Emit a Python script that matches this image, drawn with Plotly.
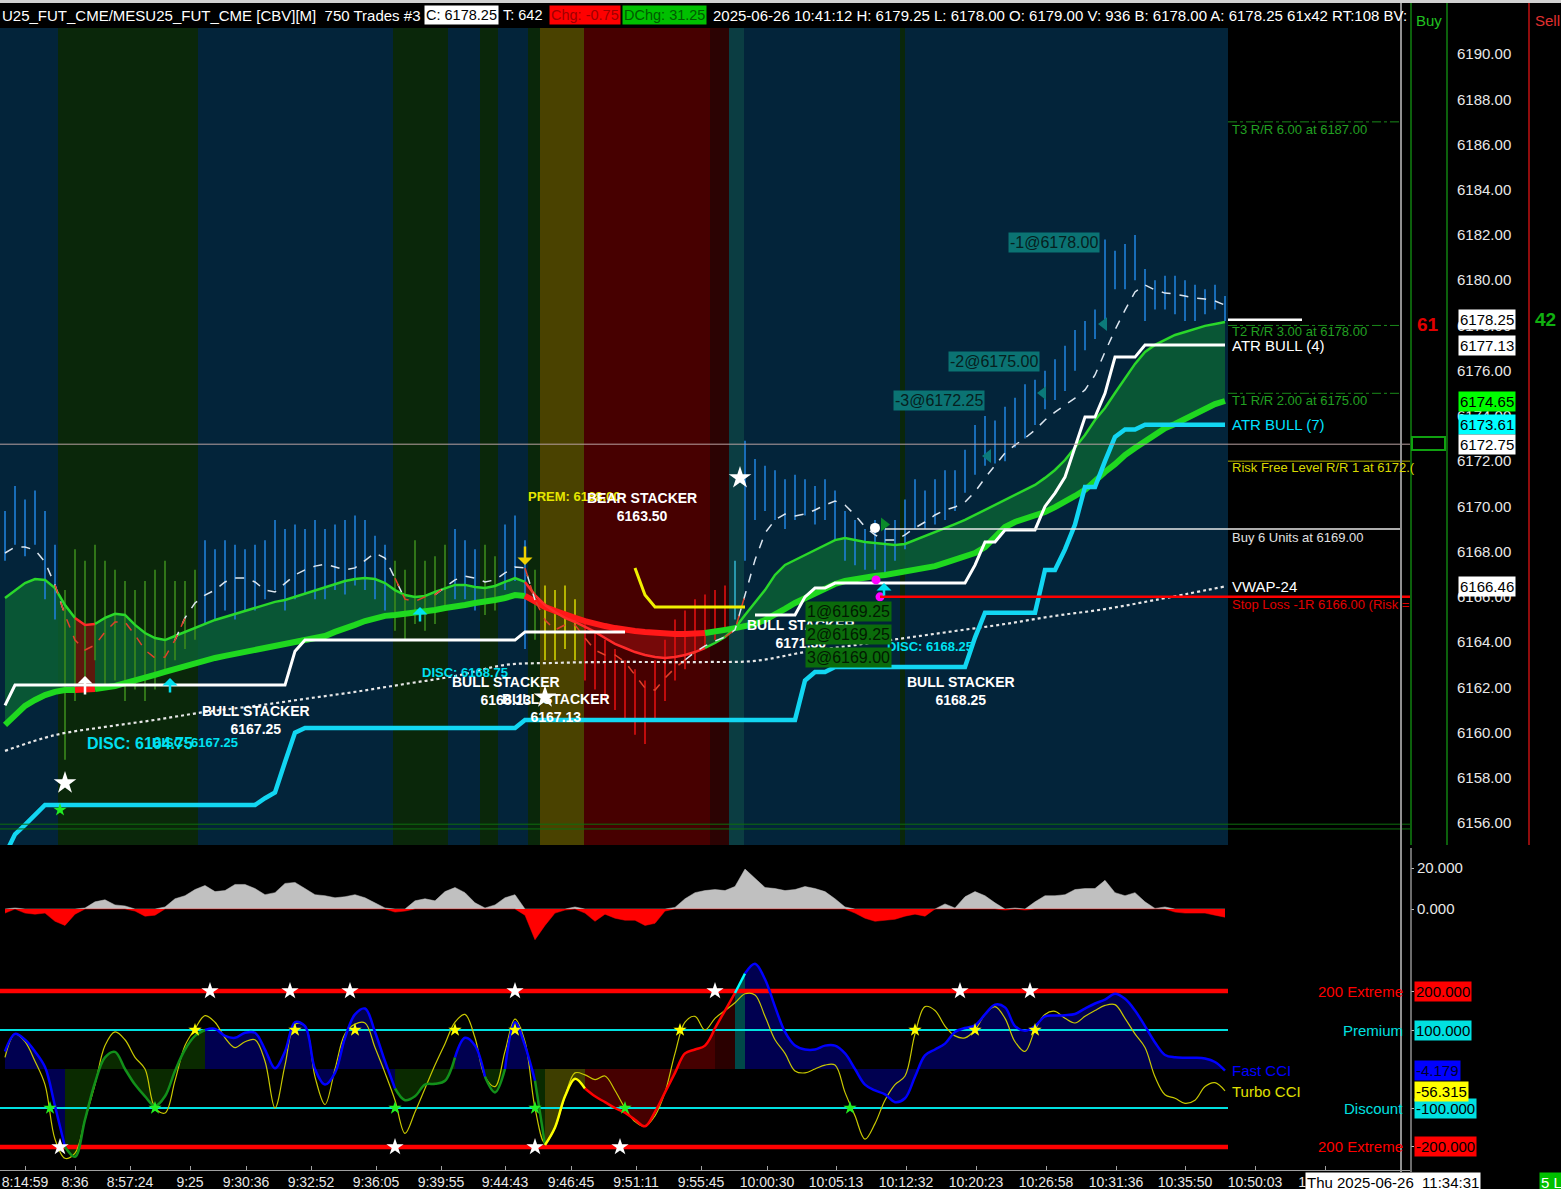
import plotly.graph_objects as go

# ---------------- DATA ----------------
bar_high = [6169.8, 6170.9, 6170.3, 6170.7, 6169.8, 6168.3, 6166.3, 6168.1, 6167.6, 6168.3,
            6167.6, 6167.2, 6166.7, 6166.3, 6166.7, 6167.2, 6167.6, 6166.7, 6166.7, 6167.2,
            6168.5, 6168.1, 6168.5, 6168.3, 6168.1, 6168.3, 6168.5, 6169.4, 6169.0, 6169.2,
            6169.0, 6169.4, 6169.0, 6169.2, 6169.4, 6169.6, 6169.4, 6168.7, 6168.3, 6167.6,
            6167.2, 6168.5, 6167.6, 6167.8, 6168.3, 6169.0, 6168.5, 6168.1, 6168.3, 6167.8,
            6169.2, 6169.6, 6168.5, 6167.2, 6166.5, 6166.3, 6166.5, 6165.9, 6165.0, 6164.5,
            6164.1, 6163.7, 6163.2, 6162.8, 6162.3, 6163.2, 6164.1, 6165.0, 6165.4, 6165.9,
            6166.1, 6166.3, 6166.5, 6167.6, 6172.9, 6172.1, 6171.8, 6171.6, 6171.2, 6171.4,
            6171.2, 6170.9, 6171.2, 6170.7, 6169.8, 6169.4, 6169.0, 6169.4, 6169.0, 6169.4,
            6170.3, 6171.2, 6170.7, 6171.2, 6171.6, 6171.6, 6172.5, 6173.6, 6174.0, 6173.8,
            6174.4, 6174.8, 6175.4, 6175.6, 6176.0, 6176.5, 6177.1, 6177.8, 6178.2, 6178.7,
            6181.8, 6181.3, 6181.6, 6182.0, 6180.5, 6180.0, 6180.2, 6180.2, 6180.0, 6179.8,
            6179.6, 6179.8, 6179.3]
bar_low = [6167.6, 6168.3, 6167.8, 6168.3, 6165.9, 6165.0, 6158.8, 6161.4, 6162.3, 6163.2,
           6161.9, 6162.3, 6161.4, 6161.9, 6161.4, 6161.9, 6162.8, 6163.2, 6163.7, 6164.1,
           6164.8, 6165.0, 6165.4, 6165.0, 6165.4, 6165.4, 6165.9, 6166.3, 6165.4, 6165.9,
           6166.1, 6165.9, 6165.9, 6166.3, 6166.1, 6166.5, 6166.3, 6165.9, 6165.4, 6164.5,
           6164.1, 6164.8, 6164.5, 6164.8, 6165.4, 6165.9, 6165.9, 6165.4, 6165.2, 6165.4,
           6166.3, 6166.7, 6163.7, 6164.1, 6163.2, 6163.2, 6163.7, 6163.2, 6162.3, 6161.9,
           6161.4, 6161.0, 6160.6, 6159.9, 6159.5, 6160.6, 6161.4, 6162.3, 6162.8, 6163.2,
           6163.7, 6164.1, 6164.5, 6165.0, 6167.6, 6169.4, 6169.8, 6169.4, 6169.0, 6169.4,
           6169.6, 6169.2, 6169.4, 6168.5, 6167.6, 6167.4, 6167.2, 6167.2, 6166.9, 6167.6,
           6168.1, 6169.0, 6169.0, 6169.2, 6169.4, 6169.8, 6170.6, 6171.4, 6171.8, 6171.9,
           6172.0, 6172.6, 6173.0, 6173.6, 6174.3, 6174.7, 6175.1, 6176.0, 6176.9, 6177.4,
           6178.2, 6179.6, 6179.6, 6180.0, 6178.2, 6178.7, 6178.7, 6178.5, 6178.2, 6178.2,
           6178.5, 6178.7, 6178.2]
band_fast = [6165.95, 6166.30, 6166.61, 6166.79, 6166.75, 6166.39, 6165.64, 6165.07, 6164.76, 6164.80,
             6165.07, 6165.25, 6165.20, 6164.76, 6164.40, 6164.18, 6164.09, 6164.27, 6164.45, 6164.62,
             6164.80, 6164.98, 6165.11, 6165.25, 6165.38, 6165.51, 6165.64, 6165.78, 6165.86, 6166.00,
             6166.13, 6166.30, 6166.44, 6166.57, 6166.70, 6166.79, 6166.83, 6166.79, 6166.61, 6166.30,
             6166.08, 6166.00, 6166.04, 6166.22, 6166.39, 6166.53, 6166.53, 6166.44, 6166.39, 6166.48,
             6166.66, 6166.83, 6166.66, 6166.08, 6165.64, 6165.33, 6165.07, 6164.89, 6164.67, 6164.45,
             6164.18, 6163.92, 6163.74, 6163.56, 6163.43, 6163.34, 6163.30, 6163.34, 6163.43, 6163.56,
             6163.74, 6163.96, 6164.23, 6164.62, 6165.20, 6165.73, 6166.30, 6166.97, 6167.41, 6167.63,
             6167.85, 6168.07, 6168.29, 6168.51, 6168.60, 6168.51, 6168.43, 6168.38, 6168.34, 6168.29,
             6168.34, 6168.51, 6168.69, 6168.87, 6169.05, 6169.22, 6169.40, 6169.62, 6169.84, 6170.06,
             6170.28, 6170.50, 6170.73, 6170.95, 6171.26, 6171.61, 6172.05, 6172.58, 6173.16, 6173.82,
             6174.35, 6175.01, 6175.68, 6176.30, 6176.83, 6177.14, 6177.36, 6177.58, 6177.71, 6177.84,
             6177.98, 6178.06, 6178.15]
band_slow = [6160.34, 6160.78, 6161.18, 6161.44, 6161.66, 6161.80, 6161.88, 6161.88, 6161.88, 6161.93,
             6161.97, 6162.06, 6162.19, 6162.33, 6162.46, 6162.55, 6162.68, 6162.81, 6162.95, 6163.08,
             6163.21, 6163.30, 6163.39, 6163.48, 6163.56, 6163.65, 6163.74, 6163.83, 6163.92, 6164.00,
             6164.05, 6164.14, 6164.27, 6164.45, 6164.58, 6164.76, 6164.93, 6165.07, 6165.16, 6165.20,
             6165.25, 6165.29, 6165.33, 6165.42, 6165.51, 6165.55, 6165.64, 6165.73, 6165.78, 6165.86,
             6165.95, 6166.08, 6166.04, 6165.78, 6165.55, 6165.38, 6165.20, 6165.07, 6164.93, 6164.80,
             6164.71, 6164.62, 6164.54, 6164.49, 6164.45, 6164.40, 6164.38, 6164.36, 6164.36, 6164.36,
             6164.40, 6164.45, 6164.54, 6164.62, 6164.71, 6164.80, 6164.98, 6165.20, 6165.47, 6165.73,
             6165.95, 6166.13, 6166.35, 6166.57, 6166.70, 6166.79, 6166.88, 6166.92, 6166.97, 6167.05,
             6167.10, 6167.19, 6167.28, 6167.36, 6167.50, 6167.63, 6167.76, 6167.94, 6168.20, 6168.65,
             6169.09, 6169.31, 6169.44, 6169.58, 6169.75, 6169.97, 6170.19, 6170.46, 6170.73, 6171.17,
             6171.52, 6171.87, 6172.27, 6172.58, 6172.89, 6173.20, 6173.46, 6173.64, 6173.86, 6174.08,
             6174.31, 6174.52, 6174.66]
ma_fast = [6167.94, 6168.20, 6168.20, 6168.07, 6167.54, 6166.52, 6165.20, 6164.09, 6163.65, 6163.87,
           6164.45, 6164.89, 6164.89, 6164.31, 6163.65, 6163.30, 6163.34, 6164.09, 6165.07, 6165.73,
           6166.08, 6166.30, 6166.66, 6166.83, 6166.83, 6166.66, 6166.30, 6166.22, 6166.61, 6166.97,
           6167.19, 6167.36, 6167.45, 6167.32, 6167.19, 6167.28, 6167.63, 6167.94, 6167.72, 6166.83,
           6165.90, 6165.80, 6166.00, 6166.10, 6166.44, 6166.75, 6166.92, 6166.83, 6166.66, 6166.75,
           6167.06, 6167.32, 6167.28, 6165.86, 6164.98, 6164.54, 6164.76, 6164.76, 6164.18, 6163.65,
           6163.43, 6163.43, 6163.12, 6162.55, 6161.97, 6161.88, 6162.41, 6162.86, 6163.21, 6163.56,
           6163.83, 6164.05, 6164.23, 6164.54, 6166.08, 6167.63, 6168.82, 6169.40, 6169.66, 6169.58,
           6169.66, 6169.84, 6170.06, 6170.24, 6170.06, 6169.62, 6169.09, 6168.74, 6168.51, 6168.51,
           6168.74, 6169.05, 6169.31, 6169.62, 6169.84, 6169.97, 6170.19, 6170.64, 6171.26, 6171.83,
           6172.36, 6172.71, 6173.02, 6173.38, 6173.82, 6174.17, 6174.48, 6174.79, 6175.15, 6175.81,
           6176.83, 6177.80, 6178.68, 6179.48, 6179.79, 6179.57, 6179.43, 6179.39, 6179.30, 6179.21,
           6179.17, 6179.08, 6178.90]
atr_bull4 = [6161.2, 6162.10, 6162.10, 6162.10, 6162.10, 6162.10, 6162.10, 6162.10, 6162.10, 6162.10,
             6162.10, 6162.10, 6162.10, 6162.10, 6162.10, 6162.10, 6162.10, 6162.10, 6162.10, 6162.10,
             6162.10, 6162.10, 6162.10, 6162.10, 6162.10, 6162.10, 6162.10, 6162.10, 6162.10, 6163.6,
             6164.09, 6164.09, 6164.09, 6164.09, 6164.09, 6164.09, 6164.09, 6164.09, 6164.09, 6164.09,
             6164.09, 6164.09, 6164.09, 6164.09, 6164.09, 6164.09, 6164.09, 6164.09, 6164.09, 6164.09,
             6164.09, 6164.09, 6164.45, 6164.45, 6164.45, 6164.45, 6164.45, 6164.45, 6164.45, 6164.45,
             6164.45, 6164.45, 6164.45, None, None, None, None, None, None, None,
             None, None, None, None, None, 6165.20, 6165.20, 6165.20, 6165.20, 6165.20,
             6166.0, 6166.39, 6166.39, 6166.61, 6166.61, 6166.61, 6166.61, 6166.61, 6166.61, 6166.61,
             6166.61, 6166.61, 6166.61, 6166.61, 6166.61, 6166.61, 6166.61, 6167.4, 6168.43, 6168.43,
             6168.96, 6168.96, 6168.96, 6168.96, 6170.0, 6170.59, 6171.3, 6172.6, 6173.95, 6173.95,
             6175.0, 6176.60, 6176.60, 6176.60, 6177.13, 6177.13, 6177.13, 6177.13, 6177.13, 6177.13,
             6177.13, 6177.13, 6177.13]
atr_bull7 = [6154.6, 6155.5, 6155.92, 6156.36, 6156.80, 6156.80, 6156.80, 6156.80, 6156.80, 6156.80,
             6156.80, 6156.80, 6156.80, 6156.80, 6156.80, 6156.80, 6156.80, 6156.80, 6156.80, 6156.80,
             6156.80, 6156.80, 6156.80, 6156.80, 6156.80, 6156.80, 6157.1, 6157.35, 6158.7, 6160.0,
             6160.20, 6160.20, 6160.20, 6160.20, 6160.20, 6160.20, 6160.20, 6160.20, 6160.20, 6160.20,
             6160.20, 6160.20, 6160.20, 6160.20, 6160.20, 6160.20, 6160.20, 6160.20, 6160.20, 6160.20,
             6160.20, 6160.20, 6160.56, 6160.56, 6160.56, 6160.56, 6160.56, 6160.56, 6160.56, 6160.56,
             6160.56, 6160.56, 6160.56, 6160.56, 6160.56, 6160.56, 6160.56, 6160.56, 6160.56, 6160.56,
             6160.56, 6160.56, 6160.56, 6160.56, 6160.56, 6160.56, 6160.56, 6160.56, 6160.56, 6160.56,
             6162.3, 6162.68, 6162.68, 6162.90, 6162.90, 6162.90, 6162.90, 6162.90, 6162.90, 6162.90,
             6162.90, 6162.90, 6162.90, 6162.90, 6162.90, 6162.90, 6162.90, 6164.2, 6165.3, 6165.3,
             6165.3, 6165.3, 6165.3, 6165.3, 6167.19, 6167.19, 6168.1, 6169.2, 6170.86, 6170.86,
             6172.0, 6173.07, 6173.4, 6173.4, 6173.61, 6173.61, 6173.61, 6173.61, 6173.61, 6173.61,
             6173.61, 6173.61, 6173.61]
atr_bear_bars = [63, 64, 65, 74]
atr_bear_vals = [6167.28, 6166.08, 6165.55, 6165.55]
vwap_bars = [0, 5, 10, 15, 20, 25, 30, 35, 40, 45, 50, 55, 60, 65, 70, 75, 80, 85, 90, 95, 100, 105, 110, 115, 122]
vwap_vals = [6159.19, 6159.89, 6160.25, 6160.56, 6160.91, 6161.18, 6161.49, 6161.80, 6162.15, 6162.50,
             6162.99, 6163.08, 6163.12, 6163.12, 6163.12, 6163.17, 6163.56, 6163.87, 6164.18, 6164.49,
             6164.80, 6165.16, 6165.46, 6165.86, 6166.46]
hist_vals = [-2.0, 0.5, -2.0, -2.5, -2.0, -6.0, -8.0, -2.5, 0.5, 3.5,
             4.5, 2.0, 1.5, -1.0, -3.5, -3.0, 1.0, 5.0, 6.5, 9.5,
             11.5, 8.5, 9.0, 12.0, 12.0, 10.0, 7.0, 8.0, 12.5, 13.0,
             10.0, 7.0, 6.5, 5.5, 6.0, 7.0, 5.5, 3.0, 0.5, -1.5,
             -1.0, 4.0, 5.0, 4.0, 8.5, 10.5, 8.0, 3.0, 0.5, 2.0,
             5.5, 7.0, -3.0, -15.0, -8.0, -2.0, -0.5, 1.0, -2.0, -6.0,
             -2.5, -4.5, -5.5, -5.5, -8.0, -7.0, -1.0, 0.8, 5.0, 8.0,
             9.0, 9.5, 9.0, 11.0, 19.5, 15.0, 10.5, 10.0, 9.0, 9.5,
             11.0, 10.0, 8.5, 5.0, 1.0, -2.0, -4.5, -6.0, -5.5, -5.0,
             -3.5, -2.5, -3.5, 0.0, 2.5, 0.5, 6.0, 8.5, 6.5, 3.0,
             -0.5, 0.5, -0.5, 3.5, 6.5, 6.5, 7.0, 9.5, 10.0, 10.0,
             14.0, 8.0, 6.5, 8.0, 3.5, 0.3, 1.0, -1.5, -2.0, -2.0,
             -2.0, -3.0, -4.0]
cci_fast = [45, 90, 75, 45, 5, -95, -200, -225, -130, -35,
            30, 44, 0, -40, -70, -95, -70, -5, 50, 85,
            100, 103, 85, 80, 93, 93, 50, 2, 45, 120,
            110, 0, -40, -10, 80, 140, 155, 95, 20, -50,
            -80, -70, -40, -38, -30, 30, 80, 60, -20, -60,
            0, 120, 60, -30, -195, -150, -70, -25, -50, -70,
            -85, -100, -112, -130, -147, -110, -60, -10, 40, 50,
            60, 105, 150, 195, 245, 270, 230, 160, 95, 60,
            50, 50, 60, 60, 40, 0, -40, -55, -65, -85,
            -75, -20, 35, 50, 65, 95, 105, 112, 140, 165,
            158, 110, 98, 110, 135, 137, 138, 141, 155, 168,
            178, 193, 180, 150, 110, 68, 36, 30, 29, 29,
            27, 18, -4]
cci_turbo = [30, 90, 70, 20, -40, -180, -229, -216, -130, -40,
             60, 95, 75, 30, 0, -100, -113, -30, 60, 103,
             137, 120, 80, 55, 70, 75, 20, -100, 10, 115,
             110, -20, -91, 0, 90, 115, 118, 55, -10, -80,
             -165, -110, -50, 10, 65, 120, 140, 80, -20, -45,
             45, 128, 70, -100, -190, -150, -70, -10, -15, -27,
             -18, -55, -100, -135, -147, -120, -60, 40, 120, 135,
             100, 130, 150, 170, 193, 190, 135, 75, 40, -5,
             -10, 0, 10, 10, -60, -120, -180, -140, -80, -40,
             -18, 90, 160, 150, 110, 85, 80, 100, 140, 160,
             130, 70, 45, 100, 140, 148, 130, 118, 135, 150,
             163, 165, 130, 90, 55, -20, -66, -75, -88, -80,
             -45, -35, -56]
# market-state segments (bar boundaries) and their kind
state_edges = [-0.5, 5.3, 19.3, 38.8, 44.3, 47.5, 49.3, 52.3, 53.5, 57.9, 70.5, 72.4, 73.9, 89.5, 90.0, 122.3]
state_kinds = ['blue', 'green', 'blue', 'green', 'blue', 'green', 'blue', 'green', 'yellow', 'red',
               'darkred', 'teal', 'blue', 'green', 'blue']
time_tick_bars = [2.0, 7.0, 12.5, 18.5, 24.1, 30.6, 37.1, 43.6, 50.0, 56.6, 63.1, 69.6, 76.2, 83.1,
                  90.1, 97.1, 104.1, 111.1, 118.0, 125.0, 132.0]
time_tick_labels = ['8:14:59', '8:36', '8:57:24', '9:25', '9:30:36', '9:32:52', '9:36:05', '9:39:55',
                    '9:44:43', '9:46:45', '9:51:11', '9:55:45', '10:00:30', '10:05:13', '10:12:32',
                    '10:20:23', '10:26:58', '10:31:36', '10:35:50', '10:50:03', '11:05:12']
price_ticks = [6156.0, 6158.0, 6160.0, 6162.0, 6164.0, 6166.0, 6168.0, 6170.0, 6172.0, 6174.0,
               6176.0, 6178.0, 6180.0, 6182.0, 6184.0, 6186.0, 6188.0, 6190.0]
target_names = ['T3 R/R 6.00 at 6187.00', 'T2 R/R 3.00 at 6178.00', 'T1 R/R 2.00 at 6175.00']
target_prices = [6187.00, 6178.00, 6175.00]
risk_free_price = 6172.00
entry_price = 6169.00
stop_price = 6166.00
last_price = 6178.25
marker_line_price = 6172.75
bottom_levels = [6155.95, 6155.74]
axis_boxes = [('6178.25', 6178.25, '#ffffff'), ('6177.13', 6177.13, '#ffffff'), ('6174.65', 6174.65, '#00ff00'),
              ('6173.61', 6173.61, '#00ffff'), ('6172.75', 6172.75, '#ffffff'), ('6166.46', 6166.46, '#ffffff')]
signal_star_bars = [6.0, 54.0, 73.5]
signal_star_prices = [6157.77, 6161.57, 6171.26]
fill_dot_bars = [87.1, 87.5]
fill_dot_prices = [6166.75, 6166.00]
exit_tri_bars = [98.3, 103.8, 109.9]
exit_tri_prices = [6172.23, 6175.01, 6178.06]
cci_levels = [200, 100, -100, -200]
cci_level_names = ['200 Extreme', 'Premium', 'Discount', '200 Extreme']
cci_star_top = [20.5, 28.5, 34.5, 51.0, 71.0, 95.5, 102.5]
cci_star_bot = [5.5, 39.0, 53.0, 61.5]
cci_star_prem = [19.0, 29.0, 35.0, 45.0, 51.0, 67.5, 91.0, 97.0, 103.0]
cci_star_disc = [4.5, 15.0, 39.0, 53.0, 62.0, 84.5]

# ---------------- LAYOUT HELPERS ----------------
W, H = 1561, 1189
PT, PB = 28, 1170
FONT = 'Liberation Sans, Arial, sans-serif'


def xp(v):
    return v / W


def yp(v):
    return (PB - v) / (PB - PT)


N = len(bar_high)
bars = list(range(N))


def state_of(i):
    for k in range(len(state_kinds)):
        if state_edges[k] <= i < state_edges[k + 1]:
            return state_kinds[k]
    return state_kinds[-1]


states = [state_of(i) for i in bars]


def runs(flags):
    out, s = [], 0
    for i in range(1, len(flags) + 1):
        if i == len(flags) or flags[i] != flags[s]:
            out.append((s, i - 1, flags[s]))
            s = i
    return out


fig = go.Figure()
shapes = []
ann = []

bg_col = {'blue': '#03243a', 'green': '#0a270a', 'yellow': '#4a4200', 'red': '#470000',
          'darkred': '#2c0303', 'teal': '#0b3d42'}
for k, kind in enumerate(state_kinds):
    shapes.append(dict(type='rect', xref='x', yref='y domain', x0=state_edges[k], x1=state_edges[k + 1],
                       y0=0, y1=1, fillcolor=bg_col[kind], line_width=0, layer='below'))

# ---------- main panel ----------
bear = [False] + [band_slow[i] <= band_slow[i - 1] for i in range(1, N)]
for s, e, b in runs(bear):
    e2 = min(e + 1, N - 1)
    xs = bars[s:e2 + 1]
    fig.add_trace(go.Scatter(x=xs, y=band_slow[s:e2 + 1], mode='lines', line=dict(width=0),
                             hoverinfo='skip'))
    fig.add_trace(go.Scatter(x=xs, y=band_fast[s:e2 + 1], mode='lines', line=dict(width=0), fill='tonexty',
                             fillcolor='rgba(150,15,15,0.6)' if b else 'rgba(12,100,52,0.78)', hoverinfo='skip'))

bar_col = {'blue': '#1f80d8', 'green': '#3a8a1c', 'yellow': '#d0d000', 'red': '#e01010',
           'darkred': '#e01010', 'teal': '#30b0c8'}
for kind in bar_col:
    xs, ys = [], []
    for i in bars:
        if states[i] == kind:
            xs += [i, i, None]
            ys += [bar_low[i], bar_high[i], None]
    if xs:
        fig.add_trace(go.Scatter(x=xs, y=ys, mode='lines', line=dict(color=bar_col[kind], width=1.6),
                                 hoverinfo='skip'))

for s, e, b in runs(bear):
    e2 = min(e + 1, N - 1)
    xs = bars[s:e2 + 1]
    fig.add_trace(go.Scatter(x=xs, y=band_slow[s:e2 + 1], mode='lines',
                             line=dict(color='#ff1818' if b else '#1fd81f', width=6), hoverinfo='skip'))
    fig.add_trace(go.Scatter(x=xs, y=band_fast[s:e2 + 1], mode='lines',
                             line=dict(color='#ff2a2a' if b else '#2ad82a', width=2.5), hoverinfo='skip'))

above = [ma_fast[i] >= band_fast[i] for i in bars]
for want, col in ((True, '#dce6f0'), (False, '#e0402a')):
    ys = []
    for i in bars:
        near = [above[j] for j in (i - 1, i, i + 1) if 0 <= j < N]
        ys.append(ma_fast[i] if (above[i] == want or (want in near)) else None)
    fig.add_trace(go.Scatter(x=bars, y=ys, mode='lines', line=dict(color=col, width=1.5, dash='dash'),
                             hoverinfo='skip'))

fig.add_trace(go.Scatter(x=vwap_bars, y=vwap_vals, mode='lines', line=dict(color='#e8e8e8', width=2.2, dash='dot'),
                         line_shape='spline', hoverinfo='skip'))
fig.add_trace(go.Scatter(x=bars, y=atr_bull7, mode='lines', line=dict(color='#12d6f2', width=4.5),
                         hoverinfo='skip'))
fig.add_trace(go.Scatter(x=bars, y=atr_bull4, mode='lines', line=dict(color='#ffffff', width=3),
                         hoverinfo='skip'))
fig.add_trace(go.Scatter(x=atr_bear_bars, y=atr_bear_vals, mode='lines', line=dict(color='#f0f000', width=3),
                         hoverinfo='skip'))

end_bar = state_edges[-1]
# horizontal levels
for p in bottom_levels:
    shapes.append(dict(type='line', xref='x', yref='y', x0=-0.5, x1=140.5, y0=p, y1=p,
                       line=dict(color='#0e6e0e', width=1)))
shapes.append(dict(type='line', xref='x', yref='y', x0=-0.5, x1=140.5, y0=marker_line_price, y1=marker_line_price,
                   line=dict(color='#b8a0a0', width=1)))
for p in target_prices:
    shapes.append(dict(type='line', xref='x', yref='y', x0=end_bar, x1=139.5, y0=p, y1=p,
                       line=dict(color='#1a8a1a', width=1, dash='dashdot')))
shapes.append(dict(type='line', xref='x', yref='y', x0=end_bar, x1=140.5, y0=risk_free_price, y1=risk_free_price,
                   line=dict(color='#b4b400', width=1)))
shapes.append(dict(type='line', xref='x', yref='y', x0=88, x1=139.5, y0=entry_price, y1=entry_price,
                   line=dict(color='#e8e8e8', width=1.5)))
shapes.append(dict(type='line', xref='x', yref='y', x0=87.5, x1=140.5, y0=stop_price, y1=stop_price,
                   line=dict(color='#ff0000', width=2.5)))
shapes.append(dict(type='line', xref='x', yref='y', x0=end_bar, x1=129.7, y0=last_price, y1=last_price,
                   line=dict(color='#ffffff', width=2.5)))

fig.add_trace(go.Scatter(x=signal_star_bars, y=signal_star_prices, mode='markers',
                         marker=dict(symbol='star', size=17, color='white'), hoverinfo='skip'))
fig.add_trace(go.Scatter(x=[5.5], y=[6156.58], mode='markers',
                         marker=dict(symbol='star', size=10, color='#22ee22'), hoverinfo='skip'))
fig.add_trace(go.Scatter(x=fill_dot_bars, y=fill_dot_prices, mode='markers',
                         marker=dict(symbol='circle', size=9, color='#ff00ff'), hoverinfo='skip'))
fig.add_trace(go.Scatter(x=[87.0], y=[6169.05], mode='markers',
                         marker=dict(symbol='circle', size=10, color='white'), hoverinfo='skip'))
fig.add_trace(go.Scatter(x=[87.9], y=[6169.2], mode='markers',
                         marker=dict(symbol='triangle-right', size=12, color='#0a8a2a'), hoverinfo='skip'))
fig.add_trace(go.Scatter(x=exit_tri_bars, y=exit_tri_prices, mode='markers',
                         marker=dict(symbol='triangle-left', size=12, color='#0b7a7a'), hoverinfo='skip'))

# ---------- histogram panel ----------
pos = [v if v > 0 else 0 for v in hist_vals]
neg = [v if v < 0 else 0 for v in hist_vals]
fig.add_trace(go.Scatter(x=bars, y=pos, yaxis='y2', mode='lines', line=dict(color='#c0c0c0', width=0.5),
                         fill='tozeroy', fillcolor='#c0c0c0', hoverinfo='skip'))
fig.add_trace(go.Scatter(x=bars, y=neg, yaxis='y2', mode='lines', line=dict(color='#ff0000', width=0.5),
                         fill='tozeroy', fillcolor='#ff0000', hoverinfo='skip'))

# ---------- CCI panel ----------
cci_fill = {'blue': '#000050', 'green': '#0a2a00', 'yellow': '#3e3e00', 'red': '#460000',
            'darkred': '#2a0000', 'teal': '#004848'}
cci_line = {'blue': '#0000ff', 'green': '#12901a', 'yellow': '#ffff00', 'red': '#ff0000',
            'darkred': '#ff0000', 'teal': '#00ffff'}
segs = runs(states)
for s, e, kind in segs:
    e2 = min(e + 1, N - 1)
    fig.add_trace(go.Scatter(x=bars[s:e2 + 1], y=cci_fast[s:e2 + 1], yaxis='y3', mode='lines', line=dict(width=0),
                             fill='tozeroy', fillcolor=cci_fill[kind], line_shape='spline', hoverinfo='skip'))
lvl_col = {200: '#ff0000', 100: '#00e0e0', -100: '#00e0e0', -200: '#ff0000'}
for lv in cci_levels:
    fig.add_trace(go.Scatter(x=[-0.5, end_bar], y=[lv, lv], yaxis='y3', mode='lines',
                             line=dict(color=lvl_col[lv], width=4.5 if abs(lv) == 200 else 2), hoverinfo='skip'))
fig.add_trace(go.Scatter(x=bars, y=cci_turbo, yaxis='y3', mode='lines', line=dict(color='#c8c800', width=1.2),
                         line_shape='spline', hoverinfo='skip'))
for s, e, kind in segs:
    e2 = min(e + 1, N - 1)
    fig.add_trace(go.Scatter(x=bars[s:e2 + 1], y=cci_fast[s:e2 + 1], yaxis='y3', mode='lines',
                             line=dict(color=cci_line[kind], width=2.5), line_shape='spline', hoverinfo='skip'))
fig.add_trace(go.Scatter(x=cci_star_top + cci_star_bot, y=[200] * len(cci_star_top) + [-200] * len(cci_star_bot),
                         yaxis='y3', mode='markers', marker=dict(symbol='star', size=13, color='white'),
                         hoverinfo='skip'))
fig.add_trace(go.Scatter(x=cci_star_prem, y=[100] * len(cci_star_prem), yaxis='y3', mode='markers',
                         marker=dict(symbol='star', size=10, color='#ffff00'), hoverinfo='skip'))
fig.add_trace(go.Scatter(x=cci_star_disc, y=[-100] * len(cci_star_disc), yaxis='y3', mode='markers',
                         marker=dict(symbol='star', size=10, color='#22ee22'), hoverinfo='skip'))

# ---------- frame lines (paper) ----------
def vline(x, y0, y1, col, w=1.5):
    shapes.append(dict(type='line', xref='paper', yref='paper', x0=xp(x), x1=xp(x), y0=yp(y0), y1=yp(y1),
                       line=dict(color=col, width=w)))


vline(1401, 0, 1172, '#909090', 2)
vline(1411, 0, 845, '#108010', 1.5)
vline(1411, 848, 1172, '#909090', 1.5)
vline(1447, 0, 845, '#108010', 1.5)
vline(1529, 0, 845, '#c01010', 1.5)
shapes.append(dict(type='rect', xref='paper', yref='paper', x0=xp(1412), x1=xp(1445), y0=yp(450), y1=yp(437),
                   line=dict(color='#10a010', width=2)))
shapes.append(dict(type='rect', xref='paper', yref='paper', x0=0, x1=1, y0=yp(0), y1=yp(3),
                   fillcolor='#d0d0d0', line_width=0))


# ---------- text ----------
def label(text, x, y, color, size=14, bold=False, anchor='left', bg=None, yref='paper', family=FONT):
    d = dict(text=f'<b>{text}</b>' if bold else text, x=xp(x), y=yp(y) if yref == 'paper' else y,
             xref='paper', yref=yref, xanchor=anchor, yanchor='middle', showarrow=False,
             font=dict(family=family, size=size, color=color), borderpad=1)
    if bg:
        d['bgcolor'] = bg
    ann.append(d)


def arrow(x, ytip, length, color):
    ann.append(dict(x=xp(x), y=yp(ytip), xref='paper', yref='paper', ax=0, ay=length, showarrow=True,
                    arrowhead=1, arrowsize=1, arrowwidth=2.5, arrowcolor=color, text=''))


# header
label('U25_FUT_CME/MESU25_FUT_CME [CBV][M]  750 Trades #3', 0, 15, '#ffffff', 15)
label('C: 6178.25', 424, 15, '#000000', 14.5, bg='#ffffff')
label('T: 642', 501, 15, '#ffffff', 14.5)
label('Chg: -0.75', 549, 15, '#a00000', 14.5, bg='#ff0000')
label('DChg: 31.25', 622, 15, '#005a00', 14.5, bg='#00c000')
label('2025-06-26 10:41:12 H: 6179.25 L: 6178.00 O: 6179.00 V: 936 B: 6178.00 A: 6178.25 61x42 RT:108 BV:',
      711, 15, '#ffffff', 15)
label('Buy', 1414, 20, '#20c020', 15)
label('Sell', 1533, 20, '#e03030', 15)
label('61', 1428, 325, '#e00000', 19, bold=True, anchor='center')
label('42', 1545, 320, '#10b010', 19, bold=True, anchor='center')

# main panel annotations
label('PREM: 6168.00', 526, 497, '#e6e600', 13, bold=True)
label('BEAR STACKER<br>6163.50', 585, 507, '#ffffff', 14, bold=True)
label('BULL STACKER<br>6167.25', 200, 720, '#ffffff', 14, bold=True)
label('DISC: 6164.75', 85, 743, '#00e0f0', 16, bold=True)
label('DISC: 6167.25', 150, 742, '#00e0f0', 13, bold=True)
label('DISC: 6168.75', 420, 672, '#00e0f0', 13, bold=True)
label('BULL STACKER<br>6168.13', 450, 691, '#ffffff', 14, bold=True)
label('BULL STACKER<br>6167.13', 500, 708, '#ffffff', 14, bold=True)
label('BULL STACKER<br>6171.50', 745, 634, '#ffffff', 14, bold=True)
label('BULL STACKER<br>6168.25', 905, 691, '#ffffff', 14, bold=True)
label('DISC: 6168.25', 885, 647, '#00e0f0', 13, bold=True)
for t, y in (('1@6169.25', 612), ('2@6169.25', 634), ('3@6169.00', 657)):
    label(t, 805, y, '#021a02', 16, bg='#0b6b0b')
for t, x, y in (('-3@6172.25', 893, 400), ('-2@6175.00', 948, 361), ('-1@6178.00', 1008, 242)):
    label(t, x, y, '#062020', 16, bg='#0b7373')
arrow(85, 676, 20, '#ffffff')
arrow(170, 678, 16, '#00e0f0')
arrow(420, 607, 16, '#00e0f0')
arrow(884, 583, 14, '#00e0f0')
arrow(525, 565, -20, '#f0d000')

# right side labels
label(target_names[0], 1230, 129, '#22a022', 13)
label(target_names[1], 1230, 332, '#22a022', 13)
label('ATR BULL (4)', 1230, 345, '#ffffff', 15)
label(target_names[2], 1230, 400, '#22a022', 13)
label('ATR BULL (7)', 1230, 424, '#00e0ff', 15)
label('Risk Free Level R/R 1 at 6172.(', 1230, 468, '#d8d800', 13)
label('Buy 6 Units at 6169.00', 1230, 537, '#e0e0e0', 13)
label('VWAP-24', 1230, 586, '#ffffff', 15)
label('Stop Loss -1R 6166.00 (Risk =', 1230, 604, '#e00000', 13)
for txt, val, col in axis_boxes:
    label(txt, 1458, val, '#000000', 15, bg=col, yref='y')

# CCI labels
cci_lbl_col = {200: '#ff0000', 100: '#00e0e0', -100: '#00e0e0', -200: '#ff0000'}
for lv, name in zip(cci_levels, cci_level_names):
    label(name, 1405, lv, cci_lbl_col[lv], 15, anchor='right', yref='y3')
    label(f'{lv:.3f}', 1414, lv, '#000000', 15, bg=cci_lbl_col[lv], yref='y3')
label('Fast CCI', 1230, 1070, '#0000ff', 15)
label('Turbo CCI', 1230, 1091, '#e0e000', 15)
label(f'{-4.179:.3f}', 1414, 1070, '#000030', 15, bg='#0000ff')
label(f'{-56.315:.3f}', 1414, 1091, '#000000', 15, bg='#ffff00')

# bottom
label('Thu 2025-06-26  11:34:31', 1305, 1182, '#000000', 15, bg='#ffffff')
label('5 L', 1539, 1182, '#ffffff', 15, bg='#00c000')

axfont = dict(family=FONT, size=15, color='#e8e8e8')
fig.update_layout(
    width=W, height=H, margin=dict(l=0, r=0, t=PT, b=H - PB, autoexpand=False),
    paper_bgcolor='#000000', plot_bgcolor='#000000', showlegend=False,
    shapes=shapes, annotations=ann,
    xaxis=dict(domain=[0, xp(1410)], range=[-0.5, 140.5], anchor='y3', tickvals=time_tick_bars,
               ticktext=time_tick_labels, tickfont=dict(family=FONT, size=14, color='#e8e8e8'),
               showgrid=False, zeroline=False, ticks='inside', ticklen=4, tickcolor='#a0a0a0',
               ticklabelstandoff=-1,
               showline=True, linecolor='#a0a0a0', automargin=False),
    yaxis=dict(domain=[yp(845), 1], range=[6155.03, 6191.15], side='right', anchor='free', position=xp(1456),
               tickvals=price_ticks, tickformat='.2f', tickfont=axfont, showgrid=False, zeroline=False,
               ticks='', showline=False, automargin=False),
    yaxis2=dict(domain=[yp(960), yp(848)], range=[-24.9, 29.8], side='right', anchor='x',
                tickvals=[0, 20], ticktext=['0.000', '20.000'], tickfont=axfont, showgrid=False,
                zeroline=False, ticks='outside', ticklen=3, tickcolor='#c0c0c0', automargin=False),
    yaxis3=dict(domain=[0, yp(962)], range=[-259, 274.4], side='right', anchor='x',
                tickvals=cci_levels, showticklabels=False, showgrid=False, zeroline=False,
                ticks='outside', ticklen=3, tickcolor='#c0c0c0', automargin=False),
)
fig.write_html('out.html', config={'displayModeBar': False},
               post_script="document.body.style.margin='0px';document.body.style.overflow='hidden';"
                           "document.body.style.background='#000';")
